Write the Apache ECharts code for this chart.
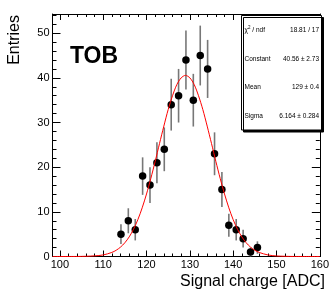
<!DOCTYPE html>
<html>
<head>
<meta charset="utf-8">
<script src="https://cdn.jsdelivr.net/npm/echarts@6/dist/echarts.min.js"></script>
<style>
html,body{margin:0;padding:0;background:#fff;}
#c{width:332px;height:295px;}
</style>
</head>
<body>
<div id="c"></div>
<script>
// ---- data ----
var binCenters = [114.1, 115.8, 117.4, 119.1, 120.8, 122.4, 124.1, 125.7, 127.4, 129.1,
                  130.8, 132.4, 134.1, 135.7, 137.4, 139.0, 140.7, 142.3, 144.0, 145.6];
var entries    = [5, 8, 6, 18, 16, 21, 24, 34, 36, 44,
                  35, 45, 42, 23, 15, 7, 6, 4, 1, 2];
var errors     = [2.2, 2.8, 2.4, 4.2, 4.0, 4.6, 4.9, 5.8, 6.0, 6.6,
                  5.9, 6.7, 6.5, 4.8, 3.9, 2.6, 2.4, 2.0, 1.0, 1.4];
// fitted curve
var fitX = [98.3, 104, 108, 110, 112, 113, 114, 115, 116, 117, 118, 119, 120, 121, 122, 123, 124, 125, 126, 127, 128, 129,
            130, 131, 132, 133, 134, 135, 136, 137, 138, 139, 140, 141, 142, 143, 144, 145, 146, 148, 150, 154, 160];
var fitY = [0, 0.01, 0.14, 0.35, 0.91, 1.40, 2.10, 3.08, 4.39, 6.10, 8.25, 10.9, 14.0, 17.5, 21.3, 25.3, 29.2, 32.9, 36.0, 38.5, 40.0, 40.56,
            40.0, 38.5, 36.0, 32.9, 29.2, 25.3, 21.3, 17.5, 14.0, 10.9, 8.25, 6.10, 4.39, 3.08, 2.10, 1.40, 0.91, 0.35, 0.12, 0.01, 0];
var xMajor = [100, 110, 120, 130, 140, 150, 160];
var xMinor = [100, 102, 104, 106, 108, 110, 112, 114, 116, 118, 120, 122, 124, 126, 128, 130, 132, 134, 136, 138, 140,
              142, 144, 146, 148, 150, 152, 154, 156, 158, 160];
var yMajor = [0, 10, 20, 30, 40, 50];
var yMinor = [0, 2, 4, 6, 8, 10, 12, 14, 16, 18, 20, 22, 24, 26, 28, 30, 32, 34, 36, 38, 40, 42, 44, 46, 48, 50, 52, 54];
var statNames  = ['Constant', 'Mean', 'Sigma'];
var statValues = ['40.56 \u00b1 2.73', '129 \u00b1 0.4', '6.164 \u00b1 0.284'];
var chiText = '18.81 / 17';
var xTitle = 'Signal charge [ADC]';
var yTitle = 'Entries';
var label = 'TOB';

var FONT = '"Liberation Sans", Arial, Helvetica, sans-serif';
var X_MIN = 98.3, X_MAX = 160, Y_MIN = 0, Y_MAX = 54.3;

function xAx(pos, ticks, len, showLine, labels) {
  return {
    type: 'value', position: pos, min: X_MIN, max: X_MAX,
    axisLine: {show: showLine, onZero: false, lineStyle: {color: '#000', width: 1}},
    axisTick: {show: true, inside: true, length: len, customValues: ticks, lineStyle: {color: '#000', width: 1}},
    axisLabel: labels ? {show: true, customValues: labels, color: '#000', fontSize: 11, fontFamily: FONT, margin: 3} : {show: false},
    splitLine: {show: false}
  };
}
function yAx(pos, ticks, len, showLine, labels) {
  return {
    type: 'value', position: pos, min: Y_MIN, max: Y_MAX,
    axisLine: {show: showLine, onZero: false, lineStyle: {color: '#000', width: 1}},
    axisTick: {show: true, inside: true, length: len, customValues: ticks, lineStyle: {color: '#000', width: 1}},
    axisLabel: labels ? {show: true, customValues: labels, color: '#000', fontSize: 11, fontFamily: FONT, margin: 3} : {show: false},
    splitLine: {show: false}
  };
}

var pts = binCenters.map(function (x, i) { return [x, entries[i], errors[i]]; });
var fit = fitX.map(function (x, i) { return [x, fitY[i]]; });

var chart = echarts.init(document.getElementById('c'), null, {renderer: 'canvas'});

var statRowsY = [59, 87.7, 116.3];
var graphics = [
  {type: 'text', x: 15, y: 15, rotation: Math.PI / 2,
   style: {text: yTitle, font: '16px ' + FONT, fill: '#000', align: 'right', verticalAlign: 'middle'}},
  {type: 'text', x: 325, y: 282,
   style: {text: xTitle, font: '16px ' + FONT, fill: '#000', align: 'right', verticalAlign: 'middle'}},
  {type: 'text', x: 94, y: 56.5,
   style: {text: label, font: 'bold 23px ' + FONT, fill: '#000', align: 'center', verticalAlign: 'middle'}},
  {type: 'rect', shape: {x: 241.5, y: 15.5, width: 80, height: 114.5}, z: 100,
   style: {fill: '#fff', stroke: '#000', lineWidth: 1, shadowColor: '#000', shadowOffsetX: 2, shadowOffsetY: 2, shadowBlur: 0}},
  {type: 'text', x: 244.5, y: 30.5, z: 101,
   style: {text: '\u03c7', font: '6.5px ' + FONT, fill: '#000', align: 'left', verticalAlign: 'middle'}},
  {type: 'text', x: 248, y: 28, z: 101,
   style: {text: '2', font: '4.5px ' + FONT, fill: '#000', align: 'left', verticalAlign: 'middle'}},
  {type: 'text', x: 250.5, y: 30.5, z: 101,
   style: {text: ' / ndf', font: '6.5px ' + FONT, fill: '#000', align: 'left', verticalAlign: 'middle'}},
  {type: 'text', x: 319, y: 30.5, z: 101,
   style: {text: chiText, font: '6.5px ' + FONT, fill: '#000', align: 'right', verticalAlign: 'middle'}}
];
statNames.forEach(function (n, i) {
  graphics.push({type: 'text', x: 244.5, y: statRowsY[i], z: 101,
    style: {text: n, font: '6.5px ' + FONT, fill: '#000', align: 'left', verticalAlign: 'middle'}});
  graphics.push({type: 'text', x: 319, y: statRowsY[i], z: 101,
    style: {text: statValues[i], font: '6.5px ' + FONT, fill: '#000', align: 'right', verticalAlign: 'middle'}});
});

chart.setOption({
  animation: false,
  backgroundColor: '#fff',
  grid: {left: 52.5, right: 6.5, top: 14, bottom: 38.5, containLabel: false},
  xAxis: [
    xAx('bottom', xMajor, 6, true, xMajor),
    xAx('bottom', xMinor, 3, false, null),
    xAx('top', xMajor, 6, true, null),
    xAx('top', xMinor, 3, false, null)
  ],
  yAxis: [
    yAx('left', yMajor, 8, true, yMajor),
    yAx('left', yMinor, 4, false, null),
    yAx('right', yMajor, 8, true, null),
    yAx('right', yMinor, 4, false, null)
  ],
  series: [
    {
      type: 'custom', xAxisIndex: 0, yAxisIndex: 0, z: 2,
      data: pts,
      renderItem: function (params, api) {
        var x = api.value(0), y = api.value(1), e = api.value(2);
        var p1 = api.coord([x, Math.max(0, y - e)]);
        var p2 = api.coord([x, y + e]);
        return {type: 'line', shape: {x1: p1[0], y1: p1[1], x2: p2[0], y2: p2[1]},
                style: {stroke: '#777', lineWidth: 1.6}};
      }
    },
    {
      type: 'scatter', xAxisIndex: 0, yAxisIndex: 0, z: 3,
      data: pts.map(function (p) { return [p[0], p[1]]; }),
      symbol: 'circle', symbolSize: 7.5,
      itemStyle: {color: '#000', opacity: 1}
    },
    {
      type: 'line', xAxisIndex: 0, yAxisIndex: 0, z: 4,
      data: fit, smooth: 0.3, showSymbol: false, symbol: 'none',
      lineStyle: {color: '#f00', width: 1}
    }
  ],
  graphic: graphics
});
</script>
</body>
</html>
